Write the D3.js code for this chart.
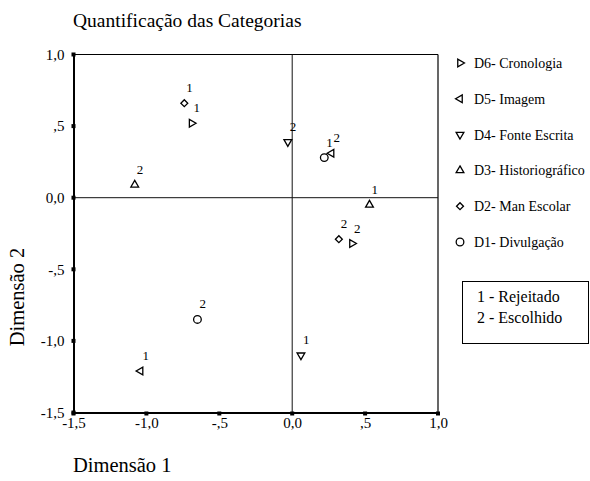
<!DOCTYPE html>
<html>
<head>
<meta charset="utf-8">
<script src="https://cdn.jsdelivr.net/npm/d3@7"></script>
<style>
  body { margin: 0; background: #fff; }
</style>
</head>
<body>
<div id="chart"></div>
<script>
// categories, in legend order (top to bottom)
var categories = ['D6- Cronologia', 'D5- Imagem', 'D4- Fonte Escrita', 'D3- Historiográfico', 'D2- Man Escolar', 'D1- Divulgação'];
var shapes = ['right', 'left', 'down', 'up', 'diamond', 'circle'];

// level 1 - Rejeitado
var dim1Rejeitado = [-0.69, -1.04, 0.06, 0.53, -0.74, 0.22];
var dim2Rejeitado = [0.52, -1.21, -1.10, -0.05, 0.66, 0.28];
// level 2 - Escolhido
var dim1Escolhido = [0.41, 0.27, -0.03, -1.08, 0.32, -0.65];
var dim2Escolhido = [-0.32, 0.31, 0.39, 0.09, -0.29, -0.85];

var tickValues = [-1.5, -1.0, -0.5, 0.0, 0.5, 1.0];
var tickLabels = ['-1,5', '-1,0', '-,5', '0,0', ',5', '1,0'];

// the generic family renders Times-like at every size here
var FONT = 'serif';
var width = 590, height = 481;
var svg = d3.select('#chart').append('svg')
    .attr('width', width)
    .attr('height', height)
    .attr('font-family', FONT);

var x = d3.scaleLinear().domain([-1.5, 1.0]).range([73.5, 438]);
var y = d3.scaleLinear().domain([-1.5, 1.0]).range([412.5, 54.5]);

/* symbol path for each shape */
function symbolPath(shape) {
    if (shape === 'circle') return d3.symbol().type(d3.symbolCircle).size(46)();
    if (shape === 'diamond') return d3.symbol().type(d3.symbolSquare).size(24)();
    return d3.symbol().type(d3.symbolTriangle).size(26)();
}
function symbolRotate(shape) {
    return { up: 0, down: 180, left: -90, right: 90, diamond: 45, circle: 0 }[shape];
}
function label(sel, size) {
    return sel.attr('font-family', FONT).attr('font-size', size).attr('fill', '#000');
}

// title
label(svg.append('text'), 19.5)
    .attr('x', 73).attr('y', 27)
    .text('Quantificação das Categorias');

// frame and zero lines
svg.append('line')
    .attr('x1', x(-1.5)).attr('x2', x(1.0))
    .attr('y1', y(1.0)).attr('y2', y(1.0))
    .attr('stroke', '#000').attr('stroke-width', 1.2);
svg.append('line')
    .attr('x1', x(1.0)).attr('x2', x(1.0))
    .attr('y1', y(1.0)).attr('y2', y(-1.5))
    .attr('stroke', '#000').attr('stroke-width', 1.2);
svg.append('line')
    .attr('x1', x(-1.5)).attr('x2', x(1.0))
    .attr('y1', y(0)).attr('y2', y(0))
    .attr('stroke', '#111').attr('stroke-width', 1);
svg.append('line')
    .attr('x1', x(0)).attr('x2', x(0))
    .attr('y1', y(1.0)).attr('y2', y(-1.5))
    .attr('stroke', '#111').attr('stroke-width', 1);

// axes
var yAxis = svg.append('g')
    .attr('transform', 'translate(' + x(-1.5) + ',0)')
    .call(d3.axisLeft(y).tickValues(tickValues)
        .tickFormat(function(d, i) { return tickLabels[i]; })
        .tickSize(0).tickPadding(9));
var xAxis = svg.append('g')
    .attr('transform', 'translate(0,' + y(-1.5) + ')')
    .call(d3.axisBottom(x).tickValues(tickValues)
        .tickFormat(function(d, i) { return tickLabels[i]; })
        .tickSize(0).tickPadding(5));
[yAxis, xAxis].forEach(function(ax) {
    ax.attr('font-family', FONT).attr('font-size', 15);
    ax.select('.domain').attr('stroke', '#000').attr('stroke-width', 2);
    label(ax.selectAll('text'), 15);
});

/* little square tick marks */
svg.selectAll('rect.ytick').data(tickValues).enter().append('rect')
    .attr('class', 'ytick')
    .attr('x', x(-1.5) - 2).attr('y', function(d) { return y(d) - 2; })
    .attr('width', 4).attr('height', 4).attr('fill', '#000');
svg.selectAll('rect.xtick').data(tickValues).enter().append('rect')
    .attr('class', 'xtick')
    .attr('x', function(d) { return x(d) - 2; }).attr('y', y(-1.5) - 1)
    .attr('width', 4).attr('height', 4).attr('fill', '#000');

// points
var points = [];
categories.forEach(function(c, i) {
    points.push({ shape: shapes[i], dx: dim1Rejeitado[i], dy: dim2Rejeitado[i], level: '1' });
    points.push({ shape: shapes[i], dx: dim1Escolhido[i], dy: dim2Escolhido[i], level: '2' });
});

var pt = svg.selectAll('g.pt').data(points).enter().append('g')
    .attr('class', 'pt')
    .attr('transform', function(d) { return 'translate(' + x(d.dx) + ',' + y(d.dy) + ')'; });
pt.append('path')
    .attr('d', function(d) { return symbolPath(d.shape); })
    .attr('transform', function(d) { return 'rotate(' + symbolRotate(d.shape) + ')'; })
    .attr('fill', '#fff').attr('stroke', '#000').attr('stroke-width', 1.3);
label(pt.append('text'), 13)
    .attr('x', 2).attr('y', -11)
    .text(function(d) { return d.level; });

// legend
var leg = svg.selectAll('g.leg').data(categories).enter().append('g')
    .attr('class', 'leg')
    .attr('transform', function(d, i) { return 'translate(460,' + (63 + i * 35.8) + ')'; });
leg.append('path')
    .attr('d', function(d, i) { return symbolPath(shapes[i]); })
    .attr('transform', function(d, i) { return 'rotate(' + symbolRotate(shapes[i]) + ')'; })
    .attr('fill', '#fff').attr('stroke', '#000').attr('stroke-width', 1.3);
label(leg.append('text'), 14)
    .attr('x', 14).attr('y', 5)
    .text(function(d) { return d; });

// level legend box
svg.append('rect')
    .attr('x', 462.5).attr('y', 281.5)
    .attr('width', 126).attr('height', 62)
    .attr('fill', 'none').attr('stroke', '#000').attr('stroke-width', 1);
label(svg.append('text'), 16).attr('x', 477).attr('y', 302).text('1 - Rejeitado');
label(svg.append('text'), 16).attr('x', 477).attr('y', 323).text('2 - Escolhido');

// axis titles
label(svg.append('text'), 20.5)
    .attr('x', 73).attr('y', 472)
    .text('Dimensão 1');
label(svg.append('text'), 20.5)
    .attr('transform', 'translate(24,297) rotate(-90)')
    .attr('text-anchor', 'middle')
    .text('Dimensão 2');
</script>
</body>
</html>
